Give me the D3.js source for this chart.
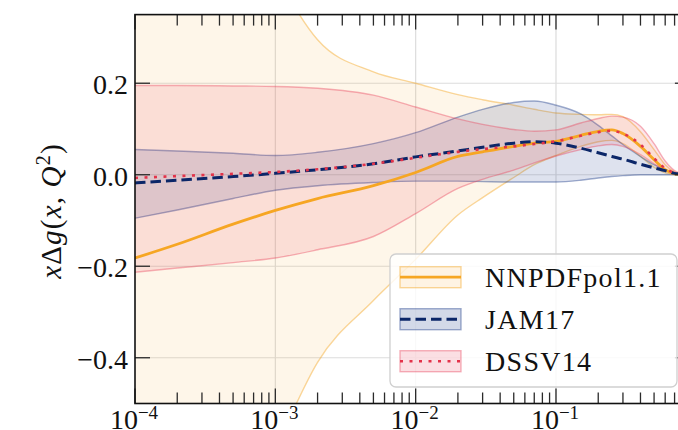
<!DOCTYPE html>
<html>
<head>
<meta charset="utf-8">
<script src="https://cdn.jsdelivr.net/npm/d3@7"></script>
<style>
  html, body { margin: 0; padding: 0; background: #ffffff; }
  svg { display: block; }
  text { font-family: "Liberation Serif", "DejaVu Serif", serif; fill: #111; }
</style>
</head>
<body>
<svg id="chart" width="678" height="430"></svg>
<script>
// momentum fraction grid
const xs = [1e-4, 2e-4, 5e-4, 1e-3, 2e-3, 5e-3, 1e-2, 2e-2, 3e-2, 5e-2, 7e-2,
            0.1, 0.15, 0.2, 0.25, 0.3, 0.4, 0.5, 0.6, 0.7, 0.8, 0.9];

// NNPDFpol1.1: central value and uncertainty envelope
const nnpdfCentral = [-0.182, -0.152, -0.108, -0.078, -0.052, -0.024, 0.005, 0.040, 0.050, 0.062, 0.069,
                      0.073, 0.086, 0.095, 0.098, 0.090, 0.062, 0.033, 0.011, 0.002, 0.0005, 0];
const nnpdfUpper   = [1.20, 0.90, 0.62, 0.44, 0.295, 0.225, 0.200, 0.175, 0.164, 0.152, 0.143,
                      0.135, 0.132, 0.131, 0.132, 0.127, 0.094, 0.055, 0.022, 0.006, 0.001, 0];
const nnpdfLower   = [-1.60, -1.20, -0.80, -0.60, -0.41, -0.275, -0.185, -0.088, -0.050, -0.006, 0.022,
                      0.042, 0.062, 0.072, 0.075, 0.068, 0.040, 0.016, 0.004, 0.0005, 0, 0];

// JAM17
const jamCentral = [-0.018, -0.012, -0.004, 0.003, 0.011, 0.024, 0.039, 0.052, 0.060, 0.069, 0.072,
                    0.069, 0.058, 0.048, 0.040, 0.034, 0.023, 0.015, 0.009, 0.003, 0.001, 0];
const jamUpper   = [0.055, 0.052, 0.047, 0.042, 0.049, 0.068, 0.092, 0.126, 0.143, 0.158, 0.161,
                    0.152, 0.133, 0.108, 0.085, 0.066, 0.040, 0.022, 0.011, 0.004, 0.001, 0];
const jamLower   = [-0.095, -0.077, -0.052, -0.034, -0.024, -0.017, -0.014, -0.014, -0.015, -0.016, -0.016,
                    -0.016, -0.012, -0.007, -0.004, -0.002, 0, 0, 0, 0, 0, 0];

// DSSV14
const dssvCentral = [-0.007, -0.003, 0.002, 0.006, 0.012, 0.024, 0.037, 0.050, 0.056, 0.062, 0.067,
                     0.073, 0.085, 0.093, 0.096, 0.090, 0.066, 0.036, 0.014, 0.004, 0.001, 0];
const dssvUpper   = [0.195, 0.195, 0.194, 0.193, 0.189, 0.174, 0.148, 0.122, 0.110, 0.099, 0.095,
                     0.098, 0.113, 0.123, 0.128, 0.126, 0.106, 0.068, 0.030, 0.009, 0.002, 0];
const dssvLower   = [-0.213, -0.204, -0.192, -0.182, -0.164, -0.135, -0.085, -0.030, -0.010, 0.010, 0.026,
                     0.041, 0.055, 0.063, 0.066, 0.062, 0.044, 0.024, 0.009, 0.003, 0.001, 0];

// axis ticks
const xTickExponents = [-4, -3, -2, -1];
const yTicks = [-0.4, -0.2, 0.0, 0.2];
const seriesNames = ["NNPDFpol1.1", "JAM17", "DSSV14"];

const svg = d3.select("#chart");
const L = 135, T = 14.6, B = 403.5;
const decade = 140.33;
const x = d3.scaleLog().domain([1e-4, 0.9]).range([L, L + Math.log10(0.9 / 1e-4) * decade]);
const y = d3.scaleLinear().domain([-0.5, 0.35]).range([B, T]);
const R = x.range()[1];

svg.append("defs").append("clipPath").attr("id", "plotClip")
  .append("rect").attr("x", L).attr("y", T).attr("width", R - L).attr("height", B - T);

const plot = svg.append("g").attr("clip-path", "url(#plotClip)");

// grid
const gridColor = "#dcdcdc";
plot.append("g").selectAll("line").data(xTickExponents.slice(1)).join("line")
  .attr("x1", d => x(Math.pow(10, d))).attr("x2", d => x(Math.pow(10, d)))
  .attr("y1", T).attr("y2", B)
  .attr("stroke", gridColor).attr("stroke-width", 1.2);
plot.append("g").selectAll("line").data(yTicks).join("line")
  .attr("x1", L).attr("x2", R)
  .attr("y1", d => y(d)).attr("y2", d => y(d))
  .attr("stroke", gridColor).attr("stroke-width", 1.2);

const styles = {
  nnpdf: { line: "#f6a623", fill: "#f5a623", fillOp: 0.10, edgeOp: 0.45 },
  jam:   { line: "#0b2668", fill: "#1f3d8a", fillOp: 0.15, edgeOp: 0.42 },
  dssv:  { line: "#e3334a", fill: "#e8405a", fillOp: 0.13, edgeOp: 0.40 }
};

const area = d3.area().x(d => x(d.x)).y0(d => y(d.lo)).y1(d => y(d.hi)).curve(d3.curveMonotoneX);
const line = d3.line().x(d => x(d.x)).y(d => y(d.v)).curve(d3.curveMonotoneX);

function band(lo, hi, st) {
  const data = xs.map((xv, i) => ({ x: xv, lo: lo[i], hi: hi[i] }));
  plot.append("path").datum(data).attr("d", area)
    .attr("fill", st.fill).attr("fill-opacity", st.fillOp).attr("stroke", "none");
  [lo, hi].forEach(arr => {
    plot.append("path").datum(xs.map((xv, i) => ({ x: xv, v: arr[i] }))).attr("d", line)
      .attr("fill", "none").attr("stroke", st.fill).attr("stroke-opacity", st.edgeOp)
      .attr("stroke-width", 1.4);
  });
}
function central(vals, st, width, dash) {
  const p = plot.append("path").datum(xs.map((xv, i) => ({ x: xv, v: vals[i] }))).attr("d", line)
    .attr("fill", "none").attr("stroke", st.line).attr("stroke-width", width);
  if (dash) p.attr("stroke-dasharray", dash);
}

band(nnpdfLower, nnpdfUpper, styles.nnpdf);
band(jamLower, jamUpper, styles.jam);
band(dssvLower, dssvUpper, styles.dssv);
central(nnpdfCentral, styles.nnpdf, 2.8, null);
central(jamCentral, styles.jam, 3, "10.5,5");
central(dssvCentral, styles.dssv, 2.6, "3,6.5");

// ticks (inward, all four sides)
const tickColor = "#2a2a2a";
const ticks = svg.append("g").attr("stroke", tickColor).attr("stroke-width", 1.3);
const minor = [];
for (let e = -4; e <= -1; e++) for (let m = 2; m <= 9; m++) {
  const v = m * Math.pow(10, e);
  if (v <= 0.9) minor.push(v);
}
xTickExponents.forEach(e => {
  const px = x(Math.pow(10, e));
  ticks.append("line").attr("x1", px).attr("x2", px).attr("y1", B).attr("y2", B - 15);
  ticks.append("line").attr("x1", px).attr("x2", px).attr("y1", T).attr("y2", T + 15);
});
minor.forEach(v => {
  const px = x(v);
  ticks.append("line").attr("x1", px).attr("x2", px).attr("y1", B).attr("y2", B - 11);
  ticks.append("line").attr("x1", px).attr("x2", px).attr("y1", T).attr("y2", T + 11);
});
yTicks.forEach(v => {
  ticks.append("line").attr("x1", L).attr("x2", L + 15).attr("y1", y(v)).attr("y2", y(v));
  ticks.append("line").attr("x1", R).attr("x2", R - 15).attr("y1", y(v)).attr("y2", y(v));
});

// spines
svg.append("rect").attr("x", L).attr("y", T).attr("width", R - L).attr("height", B - T)
  .attr("fill", "none").attr("stroke", "#111").attr("stroke-width", 1.6);

// tick labels
const fmt = v => (v < 0 ? "\u2212" : "") + Math.abs(v).toFixed(1);
svg.append("g").selectAll("text").data(yTicks).join("text")
  .attr("x", 128).attr("y", d => y(d) + 11)
  .attr("text-anchor", "end").attr("font-size", 28)
  .text(d => fmt(d));

xTickExponents.forEach(e => {
  const t = svg.append("text").attr("x", x(Math.pow(10, e)) - 1).attr("y", 429)
    .attr("text-anchor", "middle").attr("font-size", 28);
  t.append("tspan").text("10");
  t.append("tspan").attr("dy", -10.5).attr("font-size", 19).text("\u2212" + Math.abs(e));
});

// y-axis label
const yl = svg.append("text")
  .attr("transform", "translate(61,211) rotate(-90)")
  .attr("text-anchor", "middle").attr("font-size", 29).attr("letter-spacing", 1.2);
yl.append("tspan").attr("font-style", "italic").text("x");
yl.append("tspan").text("\u0394");
yl.append("tspan").attr("font-style", "italic").text("g");
yl.append("tspan").text("(");
yl.append("tspan").attr("font-style", "italic").text("x");
yl.append("tspan").text(", ");
yl.append("tspan").attr("font-style", "italic").text("Q");
yl.append("tspan").attr("dy", -11).attr("font-size", 20).text("2");
yl.append("tspan").attr("dy", 11).text(")");

// legend
const lg = svg.append("g");
lg.append("rect").attr("x", 390).attr("y", 254).attr("width", 287).attr("height", 133)
  .attr("rx", 6).attr("fill", "#ffffff").attr("fill-opacity", 0.82)
  .attr("stroke", "#cfcfcf").attr("stroke-width", 1.3);
const legendItems = [
  { name: seriesNames[0], st: styles.nnpdf, w: 2.8, dash: null },
  { name: seriesNames[1], st: styles.jam, w: 3, dash: "10.5,5" },
  { name: seriesNames[2], st: styles.dssv, w: 2.6, dash: "3,6.5" }
];
legendItems.forEach((it, i) => {
  const top = 266.7 + i * 42;
  lg.append("rect").attr("x", 400).attr("y", top).attr("width", 61).attr("height", 21)
    .attr("fill", it.st.fill).attr("fill-opacity", it.st.fillOp * 1.3)
    .attr("stroke", it.st.fill).attr("stroke-opacity", it.st.edgeOp).attr("stroke-width", 1.4);
  const ln = lg.append("line").attr("x1", 400).attr("x2", 461)
    .attr("y1", top + 10.5).attr("y2", top + 10.5)
    .attr("stroke", it.st.line).attr("stroke-width", it.w);
  if (it.dash) ln.attr("stroke-dasharray", it.dash);
  lg.append("text").attr("x", 485).attr("y", top + 20.5)
    .attr("font-size", 28).attr("letter-spacing", 1.3).text(it.name);
});
</script>
</body>
</html>
